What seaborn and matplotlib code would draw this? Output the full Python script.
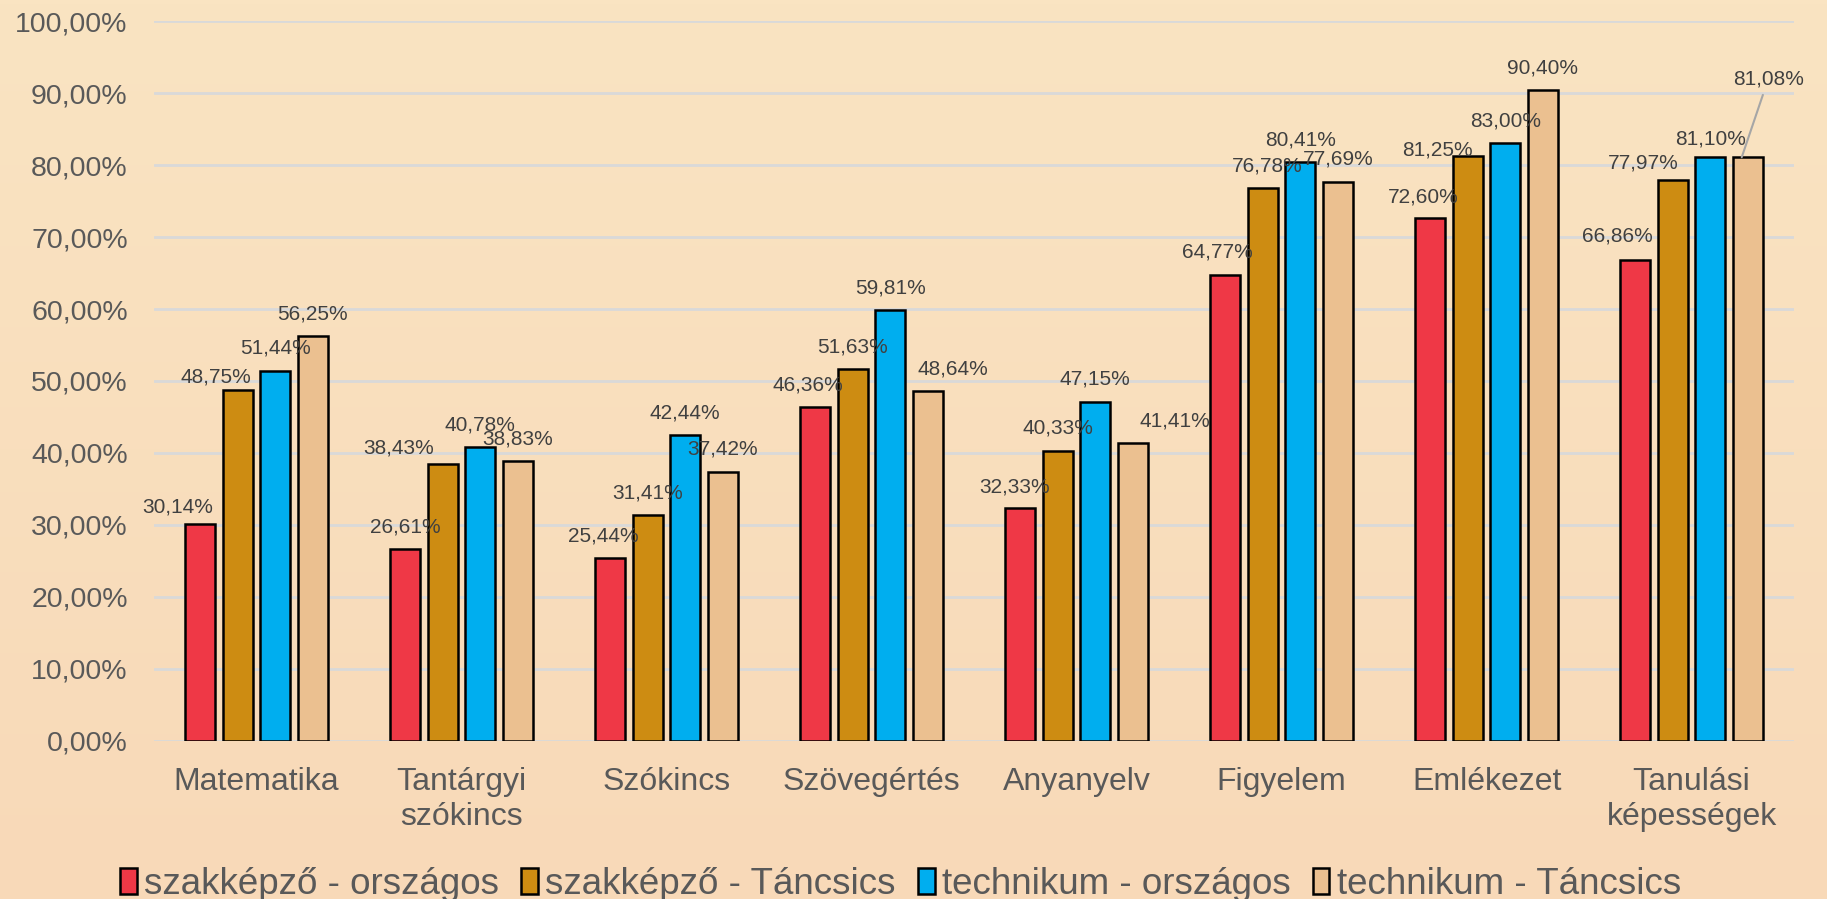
import matplotlib
matplotlib.use("Agg")
import matplotlib.pyplot as plt
import numpy as np
import pandas as pd
import seaborn as sns
from matplotlib.colors import LinearSegmentedColormap
from matplotlib.patches import Patch
from matplotlib.ticker import FuncFormatter, MultipleLocator

categories = ["Matematika", "Tantárgyi\nszókincs", "Szókincs", "Szövegértés",
              "Anyanyelv", "Figyelem", "Emlékezet", "Tanulási\nképességek"]
series = ["szakképző - országos", "szakképző - Táncsics",
          "technikum - országos", "technikum - Táncsics"]
szak_orszagos = [30.14, 26.61, 25.44, 46.36, 32.33, 64.77, 72.60, 66.86]
szak_tancsics = [48.75, 38.43, 31.41, 51.63, 40.33, 76.78, 81.25, 77.97]
tech_orszagos = [51.44, 40.78, 42.44, 59.81, 47.15, 80.41, 83.00, 81.10]
tech_tancsics = [56.25, 38.83, 37.42, 48.64, 41.41, 77.69, 90.40, 81.08]

colors = ["#EF3846", "#CD8C12", "#00AEEF", "#EBC090"]

# label nudges (dx, dy in points, relative to bar top centre) where Excel moved them
label_shift = {
    (0, 0): (-16, 12), (0, 1): (-16, 9),
    (1, 1): (-32, 12),
    (2, 0): (-5, 16),
    (3, 0): (-5, 16), (3, 3): (18, 16),
    (4, 0): (-4, 15), (4, 3): (30, 16),
    (5, 0): (-6, 16), (5, 1): (3, 16),
    (6, 0): (-5, 15), (6, 1): (-22, 4),
    (7, 0): (-13, 17), (7, 1): (-21, 12), (7, 2): (0, 13), (7, 3): (19, 56),
}
default_shift = (0, 16)

df = pd.DataFrame({
    "category": np.tile(categories, 4),
    "series": np.repeat(series, len(categories)),
    "value": szak_orszagos + szak_tancsics + tech_orszagos + tech_tancsics,
})

sns.set_theme(style="white")
plt.rcParams["font.family"] = ["Liberation Sans", "DejaVu Sans"]

fig = plt.figure(figsize=(18.27, 8.99), dpi=100)

# peach gradient background
bg = fig.add_axes([0, 0, 1, 1], zorder=-10)
grad = np.linspace(0, 1, 256).reshape(-1, 1)
cmap = LinearSegmentedColormap.from_list("bg", ["#FAE4C2", "#F8D9B8"])
bg.imshow(grad, aspect="auto", cmap=cmap, extent=[0, 1, 0, 1])
bg.axis("off")

ax = fig.add_axes([0.0843, 0.1758, 0.8977, 0.8008])
ax.set_facecolor("none")

sns.barplot(data=df, x="category", y="value", hue="series", palette=colors,
            width=0.732, gap=0.2, edgecolor="black", linewidth=1.8,
            saturation=1, legend=False, ax=ax, zorder=3)

ax.set_ylim(0, 100)
ax.set_xlim(-0.5, 7.5)
ax.yaxis.set_major_locator(MultipleLocator(10))
ax.yaxis.set_major_formatter(FuncFormatter(lambda v, _: f"{v:.2f}%".replace(".", ",")))
ax.grid(axis="y", color="#D9D9D9", linewidth=2, zorder=0)
ax.set_axisbelow(True)
for s in ax.spines.values():
    s.set_visible(False)
ax.set_xlabel("")
ax.set_ylabel("")
ax.tick_params(axis="y", labelsize=20.5, labelcolor="#595959", pad=19, length=0)
ax.tick_params(axis="x", labelsize=23, labelcolor="#595959", pad=19, length=0)

for j, cont in enumerate(ax.containers):
    for i, bar in enumerate(cont):
        v = bar.get_height()
        xc = bar.get_x() + bar.get_width() / 2
        dx, dy = label_shift.get((i, j), default_shift)
        txt = f"{v:.2f}%".replace(".", ",")
        if (i, j) == (7, 3):
            ax.annotate(txt, (xc - 0.03, v), xytext=(dx, dy), textcoords="offset points",
                        ha="center", va="center", fontsize=15, color="#404040",
                        arrowprops=dict(arrowstyle="-", color="#A6A6A6", lw=1.5,
                                        shrinkA=2, shrinkB=0), zorder=5)
        else:
            ax.annotate(txt, (xc, v), xytext=(dx, dy), textcoords="offset points",
                        ha="center", va="center", fontsize=15, color="#404040", zorder=5)

handles = [Patch(facecolor=c, edgecolor="black", linewidth=1.8) for c in colors]
fig.legend(handles, series, loc="lower center", bbox_to_anchor=(0.493, -0.04), ncol=4,
           frameon=False, fontsize=26.5, labelcolor="#595959", handlelength=0.45,
           handleheight=0.7, handletextpad=0.2, columnspacing=0.6)

fig.savefig("out.png", dpi=100)
